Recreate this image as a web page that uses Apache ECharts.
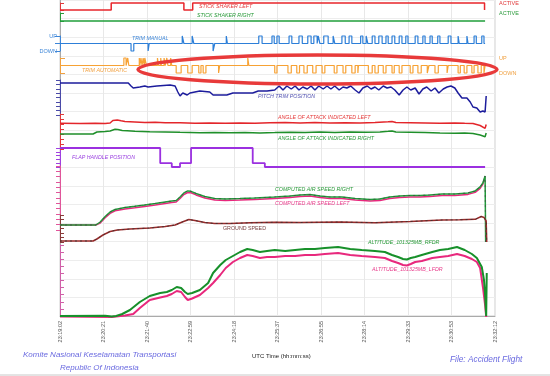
<!DOCTYPE html>
<html lang="en">
<head>
<meta charset="UTF-8">
<title>FDR Accident Flight</title>
<script src="https://cdn.jsdelivr.net/npm/echarts@6/dist/echarts.min.js"></script>
<style>
  html, body { margin: 0; padding: 0; background: #fff; }
  #chart { width: 550px; height: 376px; }
</style>
</head>
<body>
<div id="chart"></div>
<script>
// time axis: seconds after 23:19:02
const tickLabels = ['23:19:02', '23:20:21', '23:21:40', '23:22:59', '23:24:18', '23:25:37',
  '23:26:55', '23:28:14', '23:29:33', '23:30:53', '23:32:12'];
const T_END = 772;

// stick shaker left active periods [start, end]
const stickShakerLeft = [[93, 225], [241, 771]];
const stickShakerRight = [];

// trim manual pulses
const trimManualUp = [[222, 225], [240, 243], [302, 304], [361, 367], [385, 389], [394, 398], [416, 421],
  [434, 440], [450, 456], [461, 467], [469, 472], [479, 487], [496, 499], [512, 518], [525, 530],
  [546, 550], [556, 559], [567, 572], [579, 585], [592, 596], [603, 608], [616, 621], [628, 632],
  [645, 650], [659, 663], [672, 676], [686, 690], [705, 710], [723, 725], [739, 741], [752, 756], [766, 770]];
const trimManualDown = [[129, 134], [160, 162], [278, 281]];

// trim automatic pulses
const trimAutoUp = [[116, 120], [123, 125], [144, 145], [147, 149], [151, 153], [154, 157], [177, 179],
  [183, 184], [189, 191], [194, 196], [201, 203], [341, 343]];
const trimAutoDown = [[211, 220], [232, 240], [252, 256], [260, 265], [288, 290], [390, 394], [414, 420],
  [430, 435], [443, 449], [459, 465], [476, 481], [498, 503], [514, 519], [530, 536], [541, 542],
  [560, 567], [572, 578], [587, 592], [603, 607], [616, 621], [636, 641], [650, 656], [667, 670],
  [681, 687], [703, 705], [723, 727], [734, 739], [748, 752], [759, 765], [770, 772]];

// pitch trim position (units)
const pitchTrim = [[0, 12.8], [124, 12.8], [129, 11.6], [133, 10.8], [145, 11.2], [154, 11.6], [160, 11.2],
  [176, 11.6], [200, 12.0], [209, 11.6], [214, 9.2], [218, 7.6], [223, 8.8], [231, 8.0], [236, 8.8],
  [245, 9.2], [254, 9.6], [272, 9.2], [278, 8.0], [303, 8.0], [314, 8.8], [340, 8.8], [350, 8.8],
  [360, 9.6], [376, 9.6], [390, 10.0], [398, 11.6], [405, 10.0], [412, 11.6], [420, 10.4], [427, 11.6],
  [434, 10.0], [441, 11.2], [449, 10.4], [456, 11.6], [463, 10.0], [470, 11.6], [478, 10.4], [485, 11.6],
  [492, 10.4], [499, 11.6], [507, 10.0], [514, 11.2], [521, 10.8], [528, 11.6], [536, 10.0], [543, 8.8],
  [550, 10.8], [558, 11.6], [565, 10.4], [572, 11.2], [579, 10.0], [587, 11.6], [594, 10.8], [601, 11.2],
  [608, 10.0], [616, 8.0], [623, 10.0], [630, 11.2], [637, 10.0], [645, 10.8], [652, 8.4], [659, 10.4],
  [666, 11.2], [674, 9.6], [681, 10.8], [688, 8.8], [696, 10.4], [703, 11.2], [710, 11.6], [717, 10.8],
  [723, 8.8], [730, 6.8], [739, 6.8], [745, 5.2], [750, 3.2], [757, 2.8], [763, 1.2], [768, 1.6],
  [772, 1.2], [774, 7.6]];

// angle of attack (deg)
const aoaLeft = [[0, 21.4], [36, 21.2], [64, 21.6], [82, 21.2], [91, 22], [96, 27], [104, 28], [111, 26.4],
  [118, 25], [136, 24], [154, 23], [173, 23.4], [191, 22.4], [218, 22.6], [245, 21.6], [272, 22], [300, 21.4],
  [327, 22], [354, 21.6], [381, 22.4], [409, 23], [436, 22.2], [463, 22.8], [490, 22], [518, 22.6],
  [545, 22.2], [572, 22.8], [596, 24.4], [603, 25], [610, 23], [636, 22.6], [663, 22.2], [690, 21.6],
  [717, 22], [735, 21.4], [750, 21], [763, 17], [772, 11.4], [774, 19]];
const aoaRight = [[0, 0], [36, 0], [60, 0], [67, 4], [82, 5], [91, 6], [100, 9.4], [105, 9], [113, 7],
  [122, 6.6], [136, 5.6], [163, 4.6], [191, 4.2], [218, 3.4], [254, 2.6], [281, 3.2], [309, 2.4], [336, 3],
  [363, 2.2], [390, 2.8], [418, 3.6], [445, 3], [472, 3.8], [499, 3.2], [527, 4], [554, 3.4], [581, 4.2],
  [596, 5.4], [603, 6], [610, 4], [636, 3.6], [663, 3], [690, 2], [717, 1.6], [735, 2], [750, 1],
  [763, -2], [772, -5.4], [774, 2]];

// flap handle position (held until next point)
const flapHandle = [[0, 5], [182, 1], [203, 0], [218, 1], [238, 5], [350, 1], [372, 0], [772, 0]];

// computed air speed (kt)
const casRight = [[0, 37.5], [65, 37.5], [73, 60], [82, 101], [91, 135], [100, 154], [118, 169], [136, 178],
  [154, 188], [173, 199], [191, 210], [203, 218], [211, 221], [218, 248], [225, 278], [232, 293], [238, 290],
  [247, 274], [263, 251], [281, 236], [300, 233], [327, 236], [354, 240], [390, 248], [418, 255], [436, 263],
  [454, 266], [472, 255], [490, 248], [512, 248], [536, 236], [563, 229], [581, 233], [599, 248], [617, 255],
  [636, 259], [654, 259], [672, 263], [694, 270], [717, 270], [741, 278], [754, 293], [763, 323], [768, 353],
  [772, 405], [773, -90]];
const casLeft = [[0, 37.5], [65, 37.5], [73, 52], [82, 92], [91, 125], [100, 144], [118, 158], [136, 167],
  [154, 177], [173, 188], [191, 199], [203, 207], [211, 210], [218, 236], [225, 266], [232, 281], [238, 279],
  [247, 263], [263, 240], [281, 225], [300, 222], [327, 225], [354, 229], [390, 237], [418, 244], [436, 252],
  [454, 255], [472, 244], [490, 237], [512, 237], [536, 225], [563, 218], [581, 222], [599, 237], [617, 244],
  [636, 248], [654, 248], [672, 252], [694, 259], [717, 259], [741, 267], [754, 282], [763, 312], [768, 345],
  [772, 398]];

// ground speed (kt)
const groundSpeed = [[0, 15], [60, 15], [67, 45], [78, 105], [91, 157], [104, 180], [127, 195], [163, 210],
  [191, 232], [209, 255], [222, 300], [234, 338], [245, 322], [263, 292], [281, 278], [309, 278], [345, 288],
  [390, 296], [436, 292], [508, 300], [572, 290], [636, 308], [694, 330], [726, 333], [754, 340], [765, 382],
  [770, 368], [774, 315], [775, 0]];

// altitude 1013.25 mb (ft)
const altRight = [[0, 0], [82, 16], [94, -40], [102, 0], [113, 160], [127, 480], [145, 1120], [163, 1600],
  [182, 1840], [194, 1920], [203, 2080], [212, 2320], [220, 2240], [227, 1920], [232, 1760], [240, 1840],
  [254, 2080], [269, 2640], [278, 3440], [291, 4080], [301, 4480], [314, 4800], [327, 5120], [340, 5360],
  [350, 5280], [363, 5120], [376, 5200], [390, 5280], [409, 5200], [427, 5280], [445, 5360], [463, 5360],
  [481, 5440], [505, 5520], [527, 5360], [548, 5280], [572, 5200], [590, 5120], [603, 4880], [614, 4720],
  [623, 4560], [630, 4520], [637, 4640], [645, 4720], [657, 4880], [676, 5120], [690, 5280], [705, 5360],
  [721, 5520], [735, 5280], [748, 4960], [757, 4640], [766, 3920], [770, 2880], [772, 1680], [774, 0],
  [775, 3440]];
const altLeft = [[0, -40], [94, -80], [118, 40], [133, 160], [145, 640], [163, 1280], [182, 1480], [194, 1600],
  [203, 1760], [212, 2000], [220, 1920], [227, 1520], [232, 1280], [240, 1400], [254, 1680], [269, 2240],
  [278, 2640], [291, 3280], [301, 3840], [314, 4320], [327, 4640], [340, 4880], [350, 4800], [363, 4640],
  [376, 4720], [390, 4720], [409, 4800], [427, 4800], [445, 4880], [463, 4880], [481, 4960], [505, 5040],
  [527, 4880], [548, 4800], [572, 4720], [590, 4640], [603, 4400], [614, 4240], [623, 4080], [630, 4040],
  [637, 4160], [645, 4320], [657, 4400], [676, 4640], [690, 4720], [705, 4800], [721, 4960], [735, 4800],
  [748, 4560], [757, 4320], [763, 3840], [768, 2320], [772, 880], [774, -80]];

// turn on/off periods into a step trace
function pulseTrace(up, down) {
  const ev = up.map(p => [p[0], p[1], 1]).concat(down.map(p => [p[0], p[1], -1]));
  ev.sort((a, b) => a[0] - b[0]);
  const pts = [[0, 0]];
  ev.forEach(p => { pts.push([p[0], 0], [p[0], p[2]], [p[1], p[2]], [p[1], 0]); });
  pts.push([T_END, 0]);
  return pts;
}

const chart = echarts.init(document.getElementById('chart'));
const L = 60, R = 55;
function band(top, height) { return { left: L, right: R, top: top, height: height }; }
const grids = [
  { left: L, right: R, top: 0, height: 316, show: true, borderColor: '#cfcfcf', borderWidth: 1 },
  band(2, 8), band(13, 8), band(36, 15), band(58, 15), band(80, 35),
  band(114, 35), band(148, 19), band(166, 64), band(215, 27), band(245, 71)
];

const xAxes = grids.map((g, i) => i === 0 ? {
  gridIndex: 0, type: 'value', min: 0, max: 790, interval: 79,
  axisLine: { show: true, lineStyle: { color: '#aaa' } },
  axisTick: { show: false },
  splitLine: { show: true, lineStyle: { color: '#e8e8e8' } },
  axisLabel: { rotate: 90, fontSize: 5.5, color: '#555', margin: 5, fontFamily: 'Liberation Sans',
    formatter: v => tickLabels[Math.round(v / 79)] }
} : { gridIndex: i, type: 'value', min: 0, max: 790, show: false });

function sideAxis(grid, pos, offset, min, max, interval, color, fmt, tickLen) {
  return {
    gridIndex: grid, type: 'value', position: pos, offset: offset, min: min, max: max, interval: interval,
    axisLine: { show: true, lineStyle: { color: color, width: 1 } },
    axisTick: { show: true, inside: false, length: tickLen || 4, lineStyle: { color: color } },
    axisLabel: fmt ? { show: true, color: color, fontSize: 5.5, margin: 1, fontFamily: 'Liberation Sans', formatter: fmt } : { show: false },
    splitLine: { show: false }
  };
}
const upDown = v => v === 1 ? 'UP' : (v === -1 ? 'DOWN' : '');
const yAxes = [
  { gridIndex: 0, type: 'value', min: 0, max: 17, interval: 1,
    axisLine: { show: true, lineStyle: { color: '#aaa' } }, axisTick: { show: false }, axisLabel: { show: false },
    splitLine: { show: true, lineStyle: { color: '#ededed' } } },
  sideAxis(1, 'right', 3, 0, 1, 1, '#e0393b', v => v === 1 ? 'ACTIVE' : ''),
  sideAxis(2, 'right', 3, 0, 1, 1, '#2a9a3a', v => v === 1 ? 'ACTIVE' : ''),
  sideAxis(3, 'left', 2, -1, 1, 1, '#3d86d8', upDown, 5),
  sideAxis(4, 'right', 3, -1, 1, 1, '#f0a040', upDown, 5),
  sideAxis(5, 'left', 2, 0, 14, 1.75, '#4a4aa8'),
  sideAxis(6, 'right', 3, -30, 40, 10, '#e0393b'),
  sideAxis(7, 'left', 2, 0, 5, 1, '#a040e0'),
  sideAxis(8, 'left', 2, 0, 480, 40, '#e0559a'),
  sideAxis(9, 'right', 3, 0, 405, 67.5, '#8a3a3a'),
  sideAxis(10, 'right', 17, 0, 5680, 568, '#d060a8')
];

function line(grid, data, color, width, extra) {
  return Object.assign({
    type: 'line', xAxisIndex: grid, yAxisIndex: grid, data: data, symbol: 'none', showSymbol: false,
    clip: false, silent: true, animation: false, lineStyle: { color: color, width: width }, itemStyle: { color: color }
  }, extra || {});
}

const series = [
  line(1, pulseTrace(stickShakerLeft, []), '#e8262b', 1.5),
  line(2, pulseTrace(stickShakerRight, []), '#1f9e3a', 1.5),
  line(3, pulseTrace(trimManualUp, trimManualDown), '#2d7fd8', 1.2),
  line(4, pulseTrace(trimAutoUp, trimAutoDown), '#f7a234', 1.2),
  line(5, pitchTrim, '#1c1c9c', 1.5),
  line(6, aoaLeft, '#e3262b', 1.5),
  line(6, aoaRight, '#1f8f2a', 1.5),
  line(7, flapHandle, '#9b30e0', 1.8, { step: 'end' }),
  line(8, casLeft, '#e8287d', 1.5),
  line(8, casRight, '#1f9e3a', 1.5),
  line(8, casRight, '#444', 0.7, { lineStyle: { color: '#444', width: 0.7, type: [2, 3] } }),
  line(9, groundSpeed, '#9a2a2a', 1.5),
  line(9, groundSpeed, '#333', 0.8, { lineStyle: { color: '#333', width: 0.8, type: [2, 3] } }),
  line(10, altLeft, '#e8287d', 2),
  line(10, altRight, '#17902a', 2)
];

function label(x, y, text, color, size, style) {
  return { type: 'text', x: x, y: y, z: 50, silent: true,
    style: { text: text, fill: color, verticalAlign: 'middle',
      font: (style || 'italic') + ' ' + (size || 5.3) + 'px "Liberation Sans"' } };
}

const graphics = [
  label(199, 7, 'STICK SHAKER LEFT', '#e53a3a'),
  label(197, 16, 'STICK SHAKER RIGHT', '#2a9a3a'),
  label(132, 39, 'TRIM MANUAL', '#3d86d8'),
  label(82, 71, 'TRIM AUTOMATIC', '#f0a040'),
  label(258, 97, 'PITCH TRIM POSITION', '#5050b0'),
  label(278, 118, 'ANGLE OF ATTACK INDICATED LEFT', '#e53a3a'),
  label(278, 139, 'ANGLE OF ATTACK INDICATED RIGHT', '#2a9a3a'),
  label(72, 158, 'FLAP HANDLE POSITION', '#9a40e0'),
  label(275, 190, 'COMPUTED AIR SPEED RIGHT', '#2a9a3a'),
  label(275, 204, 'COMPUTED AIR SPEED LEFT', '#e83a8a'),
  label(223, 229, 'GROUND SPEED', '#7a4040', 5.3, 'normal'),
  label(368, 243, 'ALTITUDE_101325MB_RFDR', '#2a9a3a'),
  label(372, 270, 'ALTITUDE_101325MB_LFDR', '#e83a8a'),
  label(252, 356, 'UTC Time (hh:mm:ss)', '#222', 6, 'normal'),
  label(23, 355, 'Komite Nasional Keselamatan Transportasi', '#6a6ae0', 8),
  label(60, 368, 'Republic Of Indonesia', '#6a6ae0', 8),
  label(450, 360, 'File: Accident Flight', '#6a6ae0', 8.3),
  { type: 'ellipse', z: 100, silent: true, shape: { cx: 317.5, cy: 69.5, rx: 179.5, ry: 14.5 },
    style: { fill: null, stroke: '#e83a3a', lineWidth: 3.5 } },
  { type: 'line', z: 10, silent: true, shape: { x1: 0, y1: 375, x2: 550, y2: 375 },
    style: { stroke: '#c8c8c8', lineWidth: 1 } }
];

chart.setOption({
  animation: false,
  backgroundColor: '#fff',
  grid: grids,
  xAxis: xAxes,
  yAxis: yAxes,
  series: series,
  graphic: graphics
});
</script>
</body>
</html>
